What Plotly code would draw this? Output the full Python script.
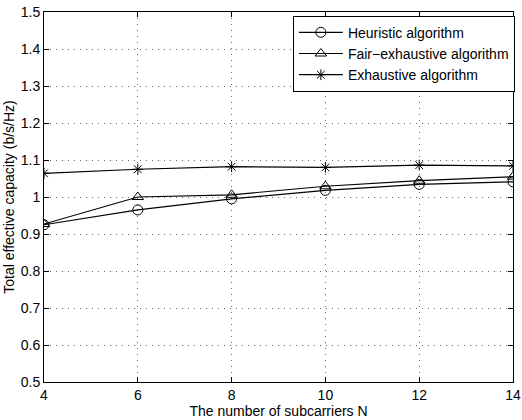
import plotly.graph_objects as go

N = [4, 6, 8, 10, 12, 14]
heuristic = [0.925, 0.965, 0.995, 1.018, 1.034, 1.041]
fair_exhaustive = [0.927, 1.000, 1.006, 1.029, 1.044, 1.055]
exhaustive = [1.064, 1.075, 1.082, 1.080, 1.086, 1.084]

x_ticks = [4, 6, 8, 10, 12, 14]
y_ticks = [0.5, 0.6, 0.7, 0.8, 0.9, 1.0, 1.1, 1.2, 1.3, 1.4, 1.5]
y_labels = ["0.5", "0.6", "0.7", "0.8", "0.9", "1", "1.1", "1.2", "1.3", "1.4", "1.5"]

fig = go.Figure()
line = dict(color="black", width=1.2)
fig.add_trace(go.Scatter(x=N, y=heuristic, mode="lines+markers", name="Heuristic algorithm",
                         line=line, marker=dict(symbol="circle-open", size=10, color="black", line=dict(width=1))))
fig.add_trace(go.Scatter(x=N, y=fair_exhaustive, mode="lines+markers", name="Fair\u2212exhaustive algorithm",
                         line=line, marker=dict(symbol="triangle-up-open", size=10, color="black", line=dict(width=1))))
fig.add_trace(go.Scatter(x=N, y=exhaustive, mode="lines+markers", name="Exhaustive algorithm",
                         line=line, marker=dict(symbol="asterisk-open", size=9, color="black", line=dict(width=1))))

axis_common = dict(
    showline=True, linecolor="black", linewidth=1, mirror="ticks",
    ticks="inside", ticklen=5, tickcolor="black",
    showgrid=True, gridcolor="rgba(0,0,0,0.6)", griddash="1px,5px", gridwidth=1,
    zeroline=False, tickfont=dict(family="Liberation Sans, Arial", size=14, color="black"),
)

fig.update_layout(
    width=522, height=420,
    margin=dict(l=44, r=9, t=12, b=38, autoexpand=False),
    paper_bgcolor="white", plot_bgcolor="white",
    font=dict(family="Liberation Sans, Arial", size=14, color="black"),
    xaxis=dict(range=[4, 14], tickvals=x_ticks, **axis_common,
               title=dict(text="The number of subcarriers N", font=dict(size=14), standoff=0)),
    yaxis=dict(range=[0.5, 1.5], tickvals=y_ticks, ticktext=y_labels, **axis_common,
               title=dict(text="Total effective capacity (b/s/Hz)", font=dict(size=14), standoff=2)),
    legend=dict(x=1.004, y=0.99, xanchor="right", yanchor="top",
                bordercolor="black", borderwidth=1, bgcolor="white",
                font=dict(size=14), tracegroupgap=0, itemwidth=44),
    showlegend=True,
)

fig.write_html("out.html")
